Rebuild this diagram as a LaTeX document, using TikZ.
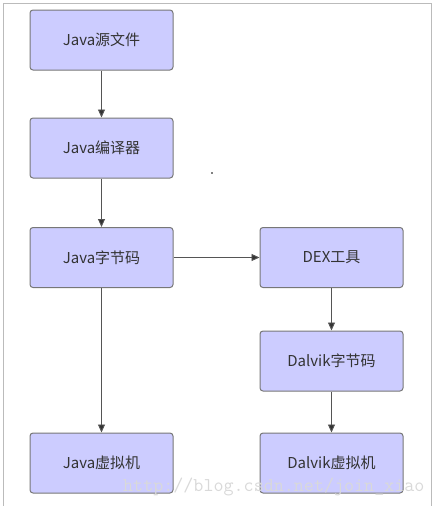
\documentclass[tikz,border=0pt]{standalone}
\usepackage{fontspec}
\setmainfont{Noto Sans CJK SC}
\usepackage{xcolor}
\usetikzlibrary{arrows.meta}

\definecolor{boxfill}{HTML}{CCCCFF}
\definecolor{boxline}{HTML}{777777}
\definecolor{flowline}{HTML}{555555}
\definecolor{flowhead}{HTML}{333333}
\definecolor{framegray}{HTML}{BBBBBB}
\definecolor{markgray}{HTML}{D9D9D9}

\begin{document}
\begin{tikzpicture}[x=1pt, y=-1pt,
    stage/.style={draw=boxline, fill=boxfill, line width=1pt, rounded corners=3pt,
      minimum width=143pt, minimum height=60pt, inner sep=0pt,
      font=\fontsize{15}{18}\selectfont, text=black!80},
    flow/.style={draw=flowline, line width=0.9pt,
      -{Triangle[length=8pt, width=7pt, fill=flowhead]}}]
  \useasboundingbox (0,0) rectangle (435,506);

  % Frame
  \draw[framegray, line width=1pt] (3,506) -- (3,3) -- (431,3) -- (431,506);

  % Left column
  \node[stage] (javasrc) at (101.5, 40) {Java源文件};
  \node[stage] (javac)   at (101.5, 148) {Java编译器};
  \node[stage] (javabc)  at (101.5, 257.5) {Java字节码};
  \node[stage] (javavm)  at (101.5, 463) {Java虚拟机};

  % Right column
  \node[stage] (dextool)  at (331.5, 257.5) {DEX工具};
  \node[stage] (dalvikbc) at (331.5, 361) {Dalvik字节码};
  \node[stage] (dalvikvm) at (331.5, 463) {Dalvik虚拟机};

  % Arrows
  \draw[flow] (javasrc) -- (javac);
  \draw[flow] (javac) -- (javabc);
  \draw[flow] (javabc) -- (javavm);
  \draw[flow] (javabc) -- (dextool);
  \draw[flow] (dextool) -- (dalvikbc);
  \draw[flow] (dalvikbc) -- (dalvikvm);

  % Stray dot
  \fill[black] (212,173) circle (0.8pt);

  % Watermark
  \node[anchor=base west, inner sep=0pt, text=markgray] (mark) at (123,491)
    {\ttfamily\fontsize{19.5}{19.5}\selectfont http://blog.csdn.net/join\_xiao};
\end{tikzpicture}
\end{document}
